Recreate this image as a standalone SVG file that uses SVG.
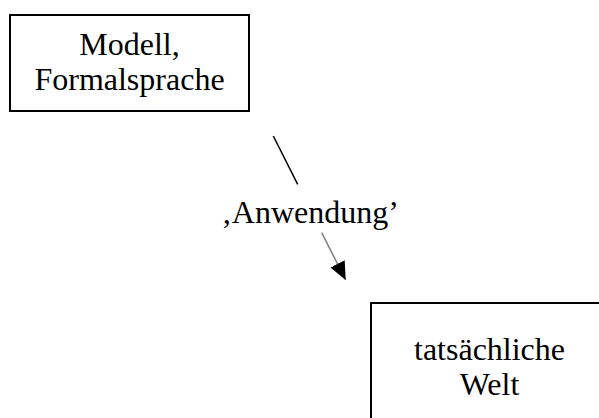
<svg xmlns="http://www.w3.org/2000/svg" width="599" height="418" viewBox="0 0 599 418">
<style>
.box{fill:#fff;stroke:#000;stroke-width:2}
.t{font-family:"Liberation Serif","Times New Roman",serif;font-size:32px;fill:#000;text-anchor:middle}
</style>
<defs>
<marker id="ah" markerUnits="userSpaceOnUse" markerWidth="20" markerHeight="20" refX="18" refY="8" orient="auto">
<path d="M0,0 L18,8 L0,16 Z" fill="#000"/>
</marker>
</defs>
<rect width="599" height="418" fill="#fff"/>
<g id="node-modell">
<rect class="box" x="10" y="15" width="239" height="96"/>
<text class="t" x="129.5" y="55">Modell,</text>
<text class="t" x="129.5" y="90">Formalsprache</text>
</g>
<g id="node-welt">
<rect class="box" x="371" y="303" width="240" height="130"/>
<text class="t" x="489.5" y="360">tatsächliche</text>
<text class="t" x="489.5" y="395">Welt</text>
</g>
<g id="connectors">
<line x1="273.3" y1="136" x2="297.7" y2="184.3" stroke="#000" stroke-width="1.5"/>
<text class="t" x="310" y="223">‚Anwendung’</text>
<line x1="321.7" y1="232.7" x2="345.7" y2="280" stroke="#808080" stroke-width="1.5" marker-end="url(#ah)"/>
</g>
</svg>
